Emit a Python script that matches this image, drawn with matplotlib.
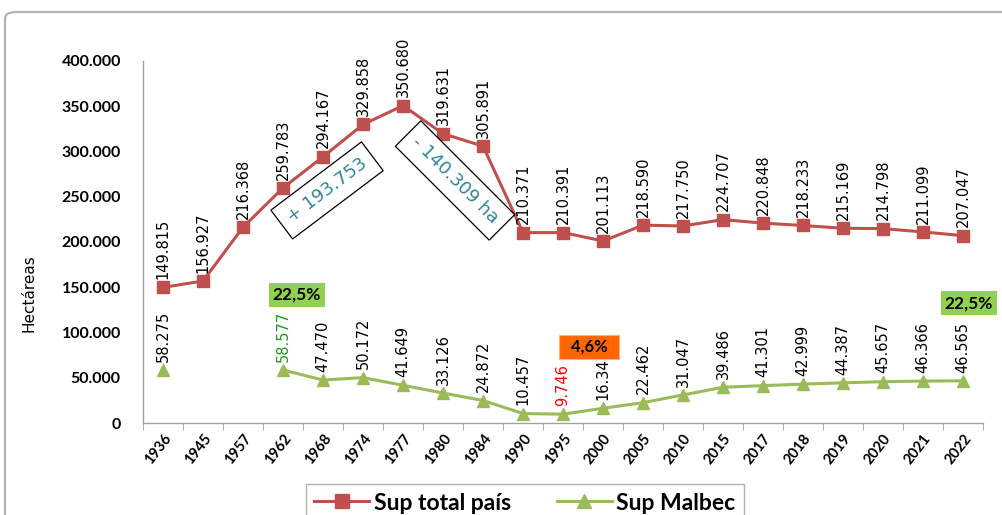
import numpy as np
import matplotlib.pyplot as plt
from matplotlib.patches import FancyBboxPatch
from matplotlib.ticker import FixedLocator, FuncFormatter

plt.rcParams["font.family"] = ["Lato", "DejaVu Sans"]

# ------------------------------------------------------------------
# datos
# ------------------------------------------------------------------
years = ["1936", "1945", "1957", "1962", "1968", "1974", "1977", "1980",
         "1984", "1990", "1995", "2000", "2005", "2010", "2015", "2017",
         "2018", "2019", "2020", "2021", "2022"]
sup_total = [149815, 156927, 216368, 259783, 294167, 329858, 350680,
             319631, 305891, 210371, 210391, 201113, 218590, 217750,
             224707, 220848, 218233, 215169, 214798, 211099, 207047]
sup_malbec = [58275, np.nan, np.nan, 58577, 47470, 50172, 41649, 33126,
              24872, 10457, 9746, 16347, 22462, 31047, 39486, 41301,
              42999, 44387, 45657, 46366, 46565]
# colores especiales de etiquetas de Malbec
malbec_label_colors = {"1962": "#1E9A1E", "1995": "#FF0000"}

RED = "#C0504D"
GREEN = "#9BBB59"
NARROW = ["Liberation Sans Narrow", "DejaVu Sans Condensed", "DejaVu Sans"]


def fmt_miles(v):
    return f"{int(v):,}".replace(",", ".")


fig = plt.figure(figsize=(10.03, 5.15), dpi=100)
ax = fig.add_axes([0.1426, 0.1786, 0.8375, 0.703])

# marco del area de grafico (recortado a derecha y abajo)
frame = FancyBboxPatch((5 / 1003, -0.2), 1.2, 1.2 - 12 / 515,
                       boxstyle="round,pad=0,rounding_size=0.012",
                       transform=fig.transFigure, fill=False,
                       edgecolor="#B4B4B4", linewidth=1.6, clip_on=False)
fig.patches.append(frame)

x = np.arange(len(years))

ax.plot(x, sup_total, color=RED, linewidth=2.2, marker="s", markersize=9,
        label="Sup total país", zorder=3)
ax.plot(x, sup_malbec, color=GREEN, linewidth=2.2, marker="^",
        markersize=9, label="Sup Malbec", zorder=3)

# etiquetas de datos
for xi, v in zip(x, sup_total):
    ax.annotate(fmt_miles(v), xy=(xi, v), xytext=(0, 6),
                textcoords="offset points", rotation=90, ha="center",
                va="bottom", fontsize=10.5, family=NARROW, zorder=4)
for xi, v, yr in zip(x, sup_malbec, years):
    if np.isnan(v):
        continue
    ax.annotate(fmt_miles(v), xy=(xi, v), xytext=(0, 6),
                textcoords="offset points", rotation=90, ha="center",
                va="bottom", fontsize=10.5, family=NARROW,
                color=malbec_label_colors.get(yr, "black"), zorder=4)

# cajas de variacion
ax.text(4.1, 257000, "+ 193.753", rotation=37, ha="center", va="center",
        fontsize=13, family=NARROW, color="#31859C", rotation_mode="anchor",
        bbox=dict(boxstyle="square,pad=0.5", facecolor="white",
                  edgecolor="black", linewidth=0.9), zorder=5)
ax.text(7.3, 268000, "- 140.309 ha", rotation=-45, ha="center", va="center",
        fontsize=13, family=NARROW, color="#31859C", rotation_mode="anchor",
        bbox=dict(boxstyle="square,pad=0.5", facecolor="white",
                  edgecolor="black", linewidth=0.9), zorder=5)

# cajas de porcentaje
ax.text(3.35, 141500, "22,5%", ha="center", va="center", fontsize=12.5,
        fontweight="bold",
        bbox=dict(boxstyle="square,pad=0.22", facecolor="#92D050",
                  edgecolor="none"), zorder=6)
ax.text(20.15, 132500, "22,5%", ha="center", va="center", fontsize=12.5,
        fontweight="bold", clip_on=False,
        bbox=dict(boxstyle="square,pad=0.22", facecolor="#92D050",
                  edgecolor="none"), zorder=6)
# la caja naranja tapa en parte la etiqueta de 2000, como en el original
ax.text(10.66, 84000, "  4,6%  ", ha="center", va="center", fontsize=12,
        fontweight="bold",
        bbox=dict(boxstyle="square,pad=0.22", facecolor="#FF6600",
                  edgecolor="#FFB080", linewidth=0.8), zorder=6)

# ejes
ax.set_xlim(-0.5, len(years) - 0.5)
ax.set_ylim(0, 400000)
ax.set_xticks(x)
ax.set_xticklabels(years, rotation=52, ha="right", va="top",
                   rotation_mode="anchor", fontsize=10.5, fontweight="bold")
ax.xaxis.set_minor_locator(FixedLocator(np.arange(-0.5, len(years), 1)))
ax.tick_params(axis="x", which="major", length=0, pad=6)
ax.tick_params(axis="x", which="minor", length=5, color="#A0A0A0")
ax.set_yticks(np.arange(0, 400001, 50000))
ax.yaxis.set_major_formatter(FuncFormatter(lambda v, p: fmt_miles(v)))
ax.tick_params(axis="y", length=0, pad=16, labelsize=11.5)
for lab in ax.get_yticklabels():
    lab.set_fontweight("bold")

ax.set_ylabel("Hectáreas", fontsize=11, family=NARROW)
ax.yaxis.set_label_coords(-0.127, 0.36)

for side in ["top", "right"]:
    ax.spines[side].set_visible(False)
for side in ["left", "bottom"]:
    ax.spines[side].set_color("#A0A0A0")
    ax.spines[side].set_linewidth(1.0)

leg = fig.legend(loc="center", bbox_to_anchor=(525 / 1003, 1 - 503 / 515),
                 ncol=2, frameon=True, fancybox=False,
                 edgecolor="#A0A0A0", handlelength=2.4, columnspacing=2.0,
                 handletextpad=0.2, borderpad=0.35, borderaxespad=0,
                 markerscale=1.1, prop={"weight": "bold", "size": 16.5})
leg.get_frame().set_linewidth(1.0)

fig.savefig("out.png", dpi=100)
plt.close(fig)
